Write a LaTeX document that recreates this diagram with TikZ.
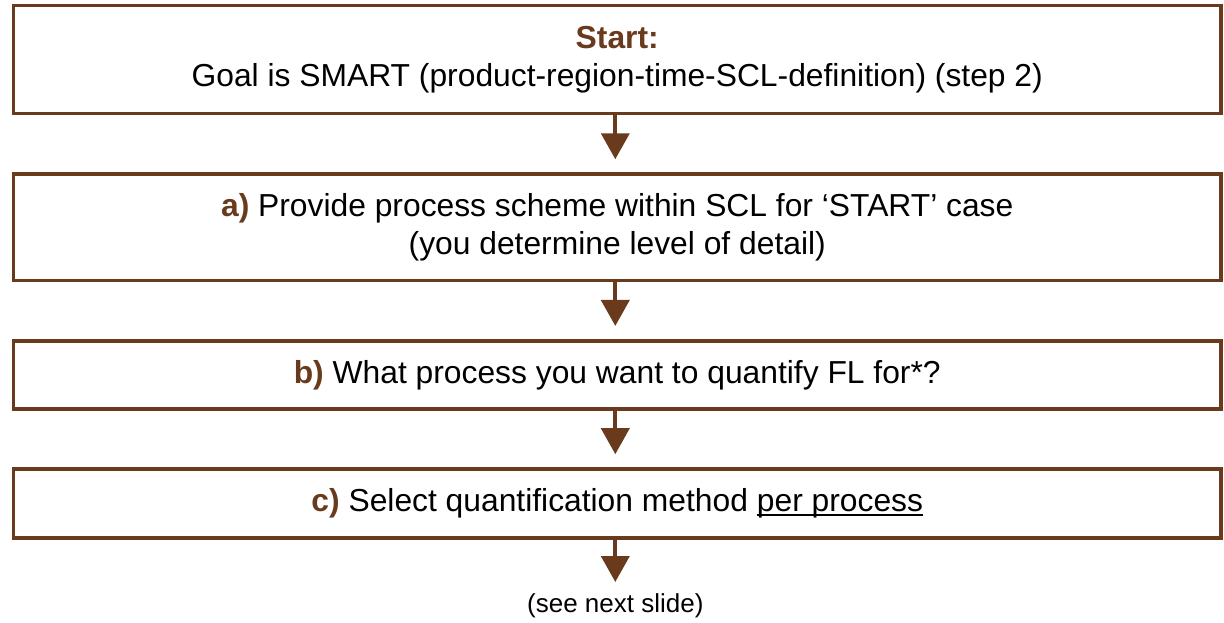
\documentclass[tikz,border=0pt]{standalone}
\usepackage{fontspec}
\setmainfont{Liberation Sans}
\usetikzlibrary{arrows.meta}
\definecolor{brn}{HTML}{6A3A1C}
\newcommand\myul[1]{\setbox0\hbox{#1}\rlap{\rule[-4.5pt]{\wd0}{2.6pt}}\box0}
\tikzset{
  flowbox/.style={draw=brn, line width=3.6pt, minimum width=1207.5pt, inner sep=0pt, align=center,
    font=\fontsize{31.8}{38.5}\selectfont},
  flowarrow/.style={draw=brn, line width=4pt, -{Triangle[width=28pt,length=26pt]}, shorten >=13pt},
  hl/.style={color=brn}
}
\begin{document}
\begin{tikzpicture}[x=1pt,y=-1pt]
\useasboundingbox (0,0) rectangle (1224,622);
\node[flowbox, minimum height=108pt] (b1) at (617.25,59.5)
  {{\color{brn}\bfseries Start:}\\Goal is SMART (product-region-time-SCL-definition) (step 2)};
\node[flowbox, minimum height=106.5pt] (b2) at (617.25,227.3)
  {{\color{brn}\bfseries a)} Provide process scheme within SCL for ‘START’ case\\(you determine level of detail)};
\node[flowbox, minimum height=68.3pt] (b3) at (617.25,374.9)
  {{\color{brn}\bfseries b)} What process you want to quantify FL for*?};
\node[flowbox, minimum height=69pt] (b4) at (617.25,503.5)
  {{\color{brn}\bfseries c)} Select quantification method \myul{per process}};
\coordinate (end) at (615.3,595);
\node[font=\fontsize{26}{30}\selectfont] (next) at (615.3,606) {(see next slide)};
\draw[flowarrow] (b1.south -| end) -- (b2.north -| end);
\draw[flowarrow] (b2.south -| end) -- (b3.north -| end);
\draw[flowarrow] (b3.south -| end) -- (b4.north -| end);
\draw[flowarrow] (b4.south -| end) -- (end);
\end{tikzpicture}
\end{document}
